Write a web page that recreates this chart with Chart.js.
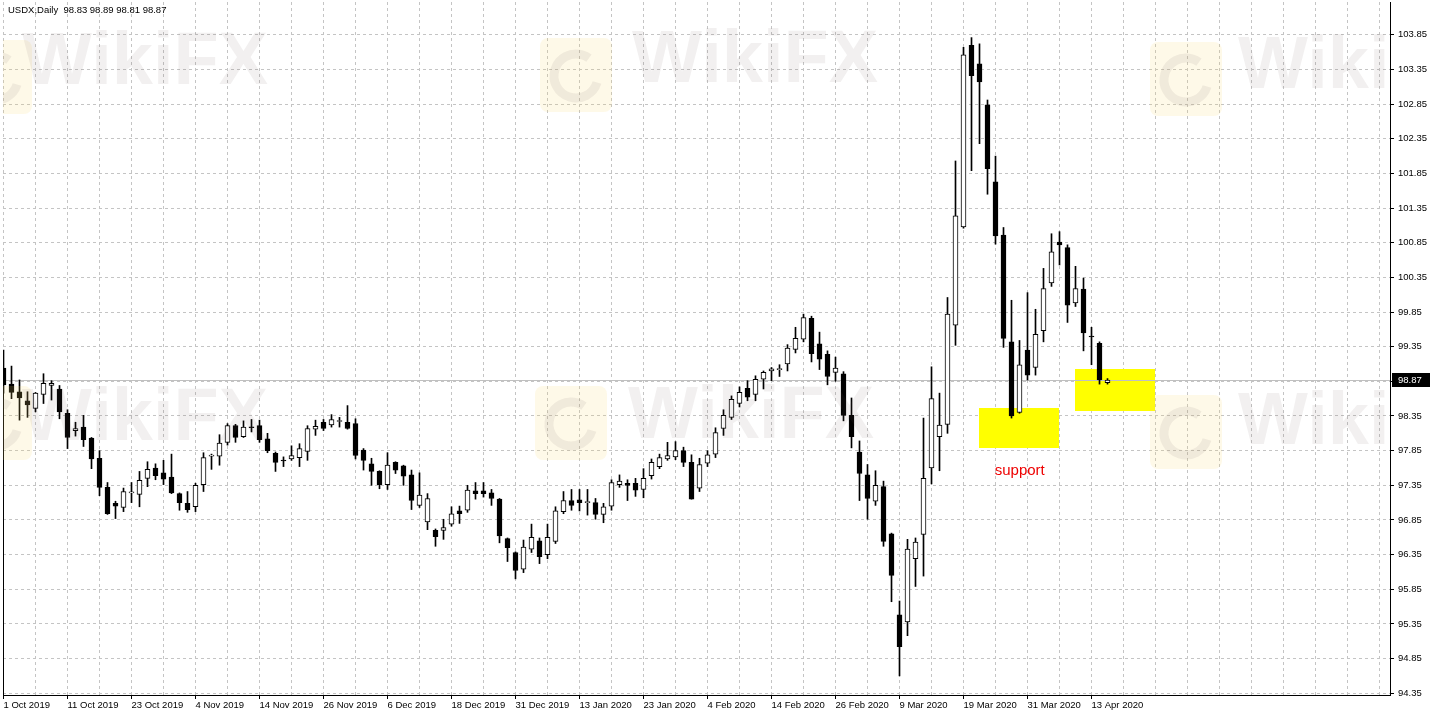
<!DOCTYPE html>
<html><head><meta charset="utf-8">
<script src="https://cdn.jsdelivr.net/npm/chart.js@4.4.1/dist/chart.umd.min.js"></script>
<style>html,body{margin:0;padding:0;background:#fff;overflow:hidden}canvas{display:block}</style>
</head><body>
<canvas id="c" width="1432" height="717"></canvas>
<script>
const chartTitle = 'USDX,Daily  98.83 98.89 98.81 98.87';
const dateLabels = ['1 Oct 2019','11 Oct 2019','23 Oct 2019','4 Nov 2019','14 Nov 2019','26 Nov 2019','6 Dec 2019','18 Dec 2019','31 Dec 2019','13 Jan 2020','23 Jan 2020','4 Feb 2020','14 Feb 2020','26 Feb 2020','9 Mar 2020','19 Mar 2020','31 Mar 2020','13 Apr 2020'];
const priceTicks = [94.35,94.85,95.35,95.85,96.35,96.85,97.35,97.85,98.35,98.85,99.35,99.85,100.35,100.85,101.35,101.85,102.35,102.85,103.35,103.85];

const opens = [99.04,98.81,98.70,98.57,98.46,98.66,98.79,98.74,98.39,98.14,98.19,98.03,97.74,97.32,97.09,97.03,97.24,97.22,97.45,97.60,
97.53,97.47,97.23,97.09,97.04,97.36,97.77,97.77,97.97,98.21,98.05,98.19,98.21,98.02,97.81,97.71,97.73,97.75,97.84,98.16,
98.26,98.22,98.27,98.26,98.24,97.86,97.66,97.55,97.36,97.68,97.63,97.50,97.06,96.82,96.70,96.70,96.79,96.98,96.99,97.27,
97.27,97.24,97.15,96.58,96.38,96.14,96.43,96.55,96.35,96.54,96.97,97.13,97.14,97.10,97.10,96.93,97.05,97.36,97.38,97.38,
97.29,97.49,97.62,97.73,97.76,97.85,97.68,97.31,97.67,97.80,98.17,98.33,98.53,98.75,98.66,98.88,99.00,99.02,99.10,99.31,
99.46,99.76,99.39,99.24,98.98,98.96,98.36,97.83,97.50,97.12,97.33,96.65,95.48,95.38,96.29,96.64,97.60,98.05,98.23,99.66,
101.08,103.70,103.43,102.84,101.73,100.96,99.42,98.40,99.30,99.05,99.58,100.27,100.86,100.78,99.98,100.18,99.50,99.40,98.83];
const highs = [99.30,99.07,98.87,98.70,98.69,98.96,98.86,98.79,98.44,98.26,98.36,98.04,97.85,97.39,97.12,97.31,97.39,97.55,97.69,97.66,
97.71,97.80,97.24,97.26,97.38,97.82,97.80,98.08,98.24,98.23,98.28,98.30,98.29,98.10,97.83,97.76,97.92,97.95,98.21,98.29,
98.30,98.37,98.33,98.50,98.31,97.88,97.74,97.56,97.82,97.69,97.64,97.57,97.53,97.23,96.72,96.86,97.04,97.05,97.35,97.39,
97.39,97.29,97.16,96.59,96.39,96.56,96.79,96.59,96.79,97.04,97.26,97.29,97.29,97.29,97.16,97.09,97.43,97.50,97.43,97.45,
97.59,97.73,97.80,97.97,97.98,97.90,97.79,97.74,97.85,98.18,98.44,98.64,98.77,98.86,98.93,99.00,99.05,99.09,99.38,99.63,
99.82,99.79,99.56,99.29,99.20,98.99,98.61,97.99,97.65,97.56,97.41,96.66,95.68,96.57,96.59,98.32,99.06,98.68,100.06,102.03,
103.67,103.81,103.72,102.91,102.10,101.07,100.02,99.44,100.13,99.89,100.48,100.98,101.01,100.82,100.51,100.34,99.63,99.42,98.89];
const lows = [98.68,98.60,98.29,98.33,98.41,98.53,98.58,98.31,97.88,98.06,97.91,97.59,97.20,96.93,96.87,96.97,97.10,97.04,97.33,97.43,
97.36,97.23,96.99,96.96,96.97,97.26,97.58,97.64,97.93,97.97,98.04,98.12,97.97,97.82,97.55,97.62,97.71,97.62,97.71,98.07,
98.14,98.19,98.19,98.16,97.73,97.57,97.35,97.30,97.29,97.52,97.35,97.00,97.03,96.71,96.47,96.57,96.76,96.80,96.96,97.15,
97.18,97.06,96.52,96.25,96.00,96.09,96.38,96.22,96.29,96.51,96.94,96.99,96.98,96.92,96.86,96.81,96.99,97.32,97.13,97.19,
97.17,97.44,97.59,97.71,97.72,97.62,97.15,97.26,97.62,97.75,98.07,98.30,98.48,98.57,98.57,98.74,98.86,98.92,99.00,99.26,
99.42,99.13,99.02,98.80,98.85,98.28,97.89,97.13,96.86,97.06,96.47,95.67,94.60,95.18,95.89,96.04,97.37,97.56,98.10,99.37,
101.06,101.89,102.28,101.55,100.83,99.34,98.32,98.39,98.87,98.94,99.42,100.22,100.53,99.70,99.93,99.29,99.09,98.81,98.81];
const closes = [98.80,98.69,98.61,98.51,98.68,98.82,98.82,98.41,98.04,98.17,98.01,97.73,97.32,96.94,97.05,97.26,97.25,97.42,97.58,97.49,
97.44,97.24,97.10,97.00,97.35,97.75,97.78,97.96,98.21,98.04,98.19,98.18,98.01,97.85,97.68,97.70,97.78,97.88,98.17,98.20,
98.17,98.30,98.28,98.17,97.78,97.71,97.55,97.36,97.64,97.57,97.48,97.13,97.21,97.16,96.61,96.74,96.94,96.94,97.28,97.23,
97.23,97.16,96.62,96.45,96.12,96.46,96.60,96.32,96.60,96.98,97.13,97.06,97.10,97.11,96.93,97.04,97.39,97.41,97.35,97.28,
97.45,97.68,97.75,97.78,97.85,97.68,97.15,97.65,97.79,98.11,98.36,98.59,98.69,98.62,98.88,98.98,99.03,99.03,99.33,99.47,
99.77,99.25,99.17,98.92,99.04,98.36,98.05,97.52,97.16,97.35,96.54,96.05,95.02,96.43,96.53,97.45,98.60,98.22,99.82,101.24,
103.56,103.26,103.17,101.92,100.95,99.47,98.35,99.09,98.94,99.53,100.19,100.72,100.82,99.95,100.19,99.55,99.49,98.87,98.87];

const lastPrice = 98.87;
const supportZones = [{from:121.94,to:131.94,low:97.89,high:98.47},{from:133.94,to:144.0,low:98.43,high:99.03}];
const supportNote = {text:'support', at:123.9, price:97.56};

const idx = opens.map((_, i) => i);
const isBull = i => closes[i] >= opens[i];
const FONT = 'Liberation Sans, Arial, sans-serif';

const decor = {
  id: 'decor',
  beforeDatasetsDraw(chart) {
    const {ctx, chartArea: a, scales: {x, y}} = chart;
    ctx.save();
    ctx.beginPath(); ctx.rect(a.left, a.top, a.right - a.left, a.bottom - a.top); ctx.clip();
    ctx.fillStyle = '#ffff00';
    supportZones.forEach(z => {
      const x0 = x.getPixelForValue(z.from), x1 = x.getPixelForValue(z.to);
      const y0 = y.getPixelForValue(z.high), y1 = y.getPixelForValue(z.low);
      ctx.fillRect(Math.round(x0), Math.round(y0), Math.round(x1 - x0), Math.round(y1 - y0));
    });
    const py = Math.round(y.getPixelForValue(lastPrice)) + 0.5;
    ctx.strokeStyle = '#c0c0c0'; ctx.lineWidth = 1;
    ctx.beginPath(); ctx.moveTo(a.left, py); ctx.lineTo(a.right, py); ctx.stroke();
    ctx.restore();
  },
  afterDraw(chart) {
    const {ctx, chartArea: a, scales: {x, y}} = chart;
    ctx.save();
    // left edge line below the first bar
    ctx.strokeStyle = '#000'; ctx.lineWidth = 1;
    ctx.beginPath(); ctx.moveTo(a.left + 0.5, y.getPixelForValue(highs[0])); ctx.lineTo(a.left + 0.5, a.bottom); ctx.stroke();
    ctx.fillStyle = '#ee0000';
    ctx.font = '15px ' + FONT;
    ctx.textBaseline = 'middle'; ctx.textAlign = 'left';
    ctx.fillText(supportNote.text, x.getPixelForValue(supportNote.at), y.getPixelForValue(supportNote.price));
    ctx.fillStyle = '#000';
    ctx.font = '9.5px ' + FONT;
    ctx.fillText(chartTitle, 8, 10);
    const py = Math.round(y.getPixelForValue(lastPrice));
    ctx.fillStyle = '#000';
    ctx.fillRect(a.right + 2, py - 7, 38, 14);
    ctx.fillStyle = '#fff';
    ctx.fillText(lastPrice.toFixed(2), a.right + 8, py + 0.5);
    ctx.beginPath(); ctx.rect(a.left, a.top, a.right - a.left, a.bottom - a.top); ctx.clip();
    const logos = [[540,38],[1150,42],[535,386],[1150,395],[-40,40],[-40,386]];
    logos.forEach(([lx, ly]) => {
      ctx.fillStyle = 'rgba(250,215,110,0.16)';
      ctx.beginPath();
      if (ctx.roundRect) ctx.roundRect(lx, ly, 72, 74, 8); else ctx.rect(lx, ly, 72, 74);
      ctx.fill();
      ctx.strokeStyle = 'rgba(120,100,100,0.10)'; ctx.lineWidth = 9;
      ctx.beginPath(); ctx.arc(lx + 36, ly + 38, 22, 0.3, Math.PI * 1.7); ctx.stroke();
    });
    ctx.fillStyle = 'rgba(110,90,90,0.09)';
    ctx.font = 'bold 74px ' + FONT;
    ctx.textBaseline = 'alphabetic';
    [[22,84],[632,82],[1238,88],[22,440],[628,438],[1238,444],[632,790]].forEach(([tx, ty]) => ctx.fillText('WikiFX', tx, ty));
    ctx.restore();
  }
};

new Chart(document.getElementById('c'), {
  type: 'bar',
  data: {
    datasets: [
      { label: 'wick', data: idx.map(i => ({x: i, y: [lows[i], highs[i]]})),
        backgroundColor: '#000', borderWidth: 0, barThickness: 1, grouped: false, order: 2 },
      { label: 'body', data: idx.map(i => ({x: i, y: [opens[i], closes[i]]})),
        backgroundColor: c => isBull(c.dataIndex) ? '#fff' : '#000', borderColor: '#000', borderWidth: 1,
        borderSkipped: false, barThickness: 5, grouped: false, order: 1, minBarLength: 1 }
    ]
  },
  options: {
    responsive: false, animation: false,
    layout: {padding: {left: 3, top: 2, right: 0, bottom: 0}},
    plugins: {legend: {display: false}, tooltip: {enabled: false}},
    scales: {
      x: {
        type: 'linear', position: 'bottom', min: -0.0625, max: 173.3125, offset: false,
        afterBuildTicks: s => { const t = []; for (let v = 0; v <= 172; v += 4) t.push({value: v}); s.ticks = t; },
        afterFit: s => { s.height = 22; s.paddingLeft = 0; s.paddingRight = 0; },
        ticks: {autoSkip: false, maxRotation: 0, minRotation: 0, align: 'start', padding: 1, color: '#000',
          font: {family: FONT, size: 9.5},
          callback: v => (v % 8 === 0 && v / 8 < dateLabels.length) ? dateLabels[v / 8] : ''},
        grid: {offset: false, color: '#c4c4c4', lineWidth: 1, tickLength: 4,
          tickColor: c => (c.tick && c.tick.value % 8 === 0 && c.tick.value / 8 < dateLabels.length) ? '#000' : 'rgba(0,0,0,0)'},
        border: {display: true, color: '#000', width: 1, dash: [3, 3]}
      },
      y: {
        type: 'linear', position: 'right', min: 94.324, max: 104.324,
        afterBuildTicks: s => { s.ticks = priceTicks.map(v => ({value: v})); },
        afterFit: s => { s.width = 42; s.paddingTop = 0; s.paddingBottom = 0; },
        ticks: {padding: 4, color: '#000', font: {family: FONT, size: 9.5}, callback: v => Number(v).toFixed(2)},
        grid: {color: '#c4c4c4', lineWidth: 1, tickLength: 4, tickColor: '#000'},
        border: {display: true, color: '#000', width: 1, dash: [3, 3]}
      }
    }
  },
  plugins: [decor]
});
</script>
</body></html>
